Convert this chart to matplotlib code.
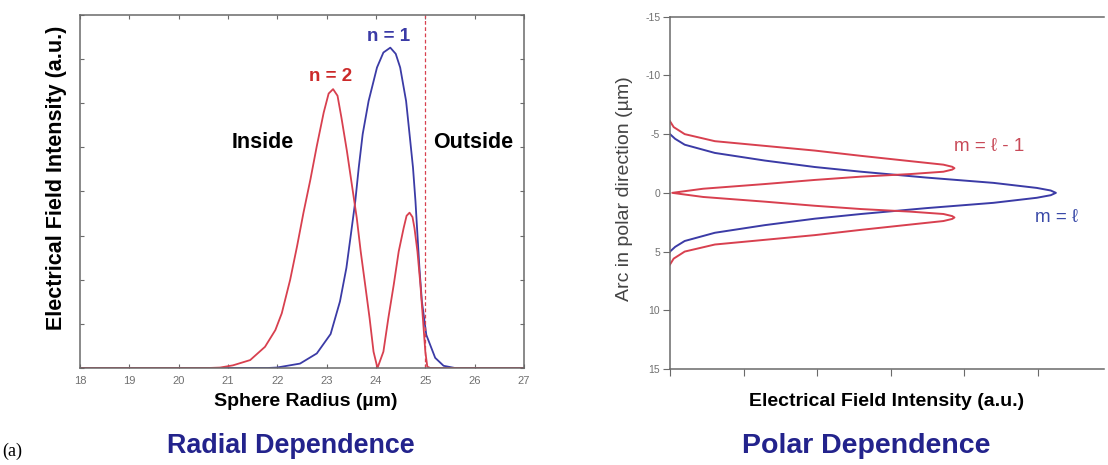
import matplotlib
matplotlib.use("Agg")
import matplotlib.pyplot as plt

plt.rcParams['font.family'] = ['Liberation Sans', 'DejaVu Sans']
plt.rcParams['axes.unicode_minus'] = False

# ---------------- data: radial dependence ----------------
radial_xticks = [18, 19, 20, 21, 22, 23, 24, 25, 26, 27]
n1_radius = [18.0, 21.8, 21.99, 22.46, 22.8, 23.08, 23.27, 23.4, 23.49, 23.58, 23.65,
             23.73, 23.85, 24.02, 24.15, 24.29, 24.4, 24.49, 24.61, 24.68, 24.75,
             24.8, 24.84, 24.88, 24.93, 25.02, 25.2, 25.37, 25.6, 27.0]
n1_intensity = [0.0, 0.0, 0.01, 0.1, 0.33, 0.77, 1.51, 2.27, 3.02, 3.78, 4.54,
                5.3, 6.05, 6.81, 7.15, 7.26, 7.12, 6.81, 6.05, 5.3, 4.54,
                3.78, 3.02, 2.27, 1.51, 0.75, 0.23, 0.05, 0.0, 0.0]
n2_radius = [18.0, 20.6, 20.84, 21.1, 21.45, 21.75, 21.96, 22.09, 22.26, 22.4, 22.53,
             22.67, 22.8, 22.94, 23.04, 23.13, 23.22, 23.3, 23.41, 23.51, 23.61, 23.69,
             23.78, 23.87, 23.95, 24.03, 24.15, 24.25, 24.36, 24.46, 24.56, 24.62,
             24.68, 24.74, 24.78, 24.84, 24.9, 24.95, 25.0, 25.04, 25.1, 27.0]
n2_intensity = [0.0, 0.0, 0.01, 0.06, 0.18, 0.48, 0.86, 1.24, 2.0, 2.76, 3.52,
                4.27, 5.03, 5.79, 6.22, 6.32, 6.17, 5.67, 4.92, 4.16, 3.4, 2.64,
                1.89, 1.13, 0.37, 0.0, 0.37, 1.13, 1.89, 2.64, 3.17, 3.45,
                3.52, 3.42, 3.17, 2.64, 1.89, 1.13, 0.37, 0.03, 0.0, 0.0]
sphere_surface = 25.0

# ---------------- data: polar dependence ----------------
polar_yticks = [-15, -10, -5, 0, 5, 10, 15]
m_l_arc = [-5.0, -4.6, -4.1, -3.4, -2.75, -2.2, -1.8, -1.3, -0.85, -0.42, -0.2, 0.0,
           0.2, 0.42, 0.85, 1.3, 1.8, 2.2, 2.75, 3.4, 4.1, 4.6, 5.0]
m_l_intensity = [0.0, 0.07, 0.2, 0.61, 1.29, 1.97, 2.6, 3.49, 4.4, 4.99, 5.18, 5.25,
                 5.18, 4.99, 4.4, 3.49, 2.6, 1.97, 1.29, 0.61, 0.2, 0.07, 0.0]
m_l1_arc = [-6.1, -5.6, -5.0, -4.4, -4.0, -3.6, -3.15, -2.7, -2.4, -2.22, -2.1, -1.98,
            -1.8, -1.6, -1.38, -1.1, -0.75, -0.35, 0.0,
            0.35, 0.75, 1.1, 1.38, 1.6, 1.8, 1.98, 2.1, 2.22, 2.4, 2.7, 3.15, 3.6,
            4.0, 4.4, 5.0, 5.6, 6.1]
m_l1_intensity = [0.0, 0.05, 0.2, 0.61, 1.29, 1.97, 2.6, 3.27, 3.72, 3.84, 3.87, 3.84,
                  3.72, 3.27, 2.6, 1.97, 1.29, 0.45, 0.03,
                  0.45, 1.29, 1.97, 2.6, 3.27, 3.72, 3.84, 3.87, 3.84, 3.72, 3.27, 2.6, 1.97,
                  1.29, 0.61, 0.2, 0.05, 0.0]

RED = '#d8404f'
BLUE = '#3b3ba6'
TICKC = '#707070'
SPINE = '#6a6a6a'
TITLE = '#23238c'

W, H = 1108, 465
fig = plt.figure(figsize=(W / 100, H / 100), dpi=100)
fig.patch.set_facecolor('white')

# ---------------- left panel ----------------
axL = fig.add_axes([80 / W, 1 - 368 / H, (524 - 80) / W, (368 - 15) / H])
axL.plot(n1_radius, n1_intensity, color=BLUE, lw=1.3)
axL.plot(n2_radius, n2_intensity, color=RED, lw=1.3)
axL.axvline(sphere_surface, color=RED, lw=0.9, ls=(0, (3, 2)))
axL.set_xlim(18, 27)
axL.set_ylim(0, 8)
axL.set_xticks(radial_xticks)
axL.set_xticklabels([str(v) for v in radial_xticks], fontsize=8, color=TICKC)
axL.set_yticks(range(0, 9))
axL.set_yticklabels([])
axL.tick_params(direction='in', length=3, width=0.8, color=SPINE,
                top=True, right=True, pad=6)
for s in axL.spines.values():
    s.set_color(SPINE)
    s.set_linewidth(1.1)
axL.set_xlabel('Sphere Radius (µm)', fontsize=14, fontweight='bold')
axL.xaxis.set_label_coords(0.509, -0.072)
axL.set_ylabel('Electrical Field Intensity (a.u.)', fontsize=15.5, fontweight='bold')
axL.yaxis.set_label_coords(-0.029, 0.54)
axL.text(24.25, 7.52, 'n = 1', color=BLUE, fontsize=13.5, fontweight='bold', ha='center', va='center')
axL.text(23.07, 6.6, 'n = 2', color='#cc2a2a', fontsize=13.5, fontweight='bold', ha='center', va='center')
axL.text(21.7, 5.1, 'Inside', color='black', fontsize=15.5, fontweight='bold', ha='center', va='center')
axL.text(25.98, 5.1, 'Outside', color='black', fontsize=15.5, fontweight='bold', ha='center', va='center')

# ---------------- right panel ----------------
axR = fig.add_axes([670 / W, 1 - 369 / H, (1104 - 670) / W, (369 - 16.7) / H])
axR.plot(m_l_intensity, m_l_arc, color=BLUE, lw=1.4)
axR.plot(m_l1_intensity, m_l1_arc, color=RED, lw=1.4)
axR.set_ylim(15, -15)
axR.set_xlim(0, (1104 - 670) / 73.5)
axR.set_yticks(polar_yticks)
axR.set_yticklabels([str(v) for v in polar_yticks], fontsize=7.5, color=TICKC)
axR.set_xticks([0, 1, 2, 3, 4, 5])
axR.set_xticklabels([])
axR.tick_params(direction='out', length=5, width=0.8, color=SPINE, pad=2)
axR.spines['right'].set_visible(False)
for s in ['left', 'top', 'bottom']:
    axR.spines[s].set_color(SPINE)
    axR.spines[s].set_linewidth(1.1)
axR.set_xlabel('Electrical Field Intensity (a.u.)', fontsize=14, fontweight='bold', labelpad=10)
axR.set_ylabel('Arc in polar direction (µm)', fontsize=14, color='#444444')
axR.yaxis.set_label_coords(-0.085, 0.512)
axR.text(4.34, -3.97, 'm = ℓ - 1', color='#c84a58', fontsize=13.5, ha='center', va='center',
         family=['Liberation Sans', 'DejaVu Sans'])
axR.text(5.26, 2.1, 'm = ℓ', color='#3a4aa8', fontsize=13.5, ha='center', va='center',
         family=['Liberation Sans', 'DejaVu Sans'])

# ---------------- captions ----------------
fig.text(291 / W, 1 - 446 / H, 'Radial Dependence', color=TITLE, fontsize=19.4,
         fontweight='bold', ha='center', va='center')
fig.text(866 / W, 1 - 446 / H, 'Polar Dependence', color=TITLE, fontsize=20.5,
         fontweight='bold', ha='center', va='center')
fig.text(2 / W, 1 - 451 / H, '(a)', color='black', fontsize=13, ha='left', va='center',
         family=['Liberation Serif', 'DejaVu Serif'])

fig.savefig('out.png', dpi=100, facecolor='white')
